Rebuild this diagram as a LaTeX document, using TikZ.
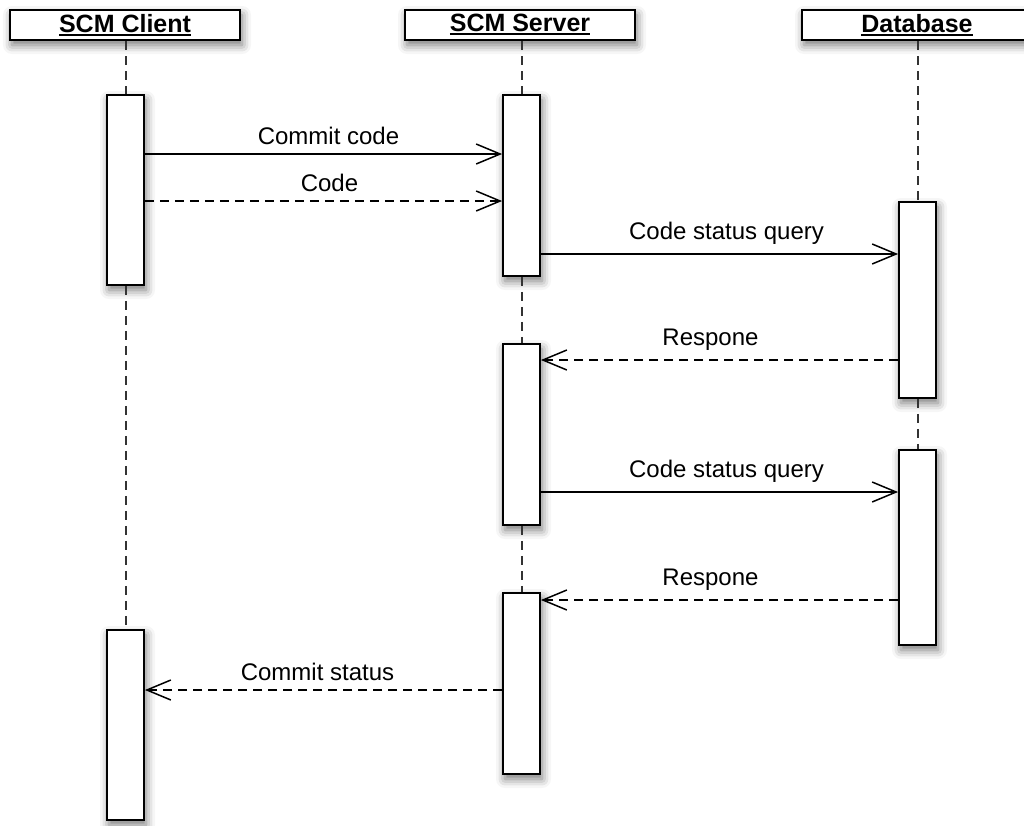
\documentclass[tikz,border=0pt]{standalone}
\usepackage{fontspec}
\setmainfont{Liberation Sans}
\usetikzlibrary{arrows.meta,shadows.blur}

% underlined participant title with a heavier rule
\newcommand\hdline[1]{\setbox0\hbox{#1}\rlap{\rule[-3.5pt]{\wd0}{2pt}}\box0}

\tikzset{
  shade/.style={blur shadow={shadow xshift=2pt,shadow yshift=-5pt,
      shadow blur radius=9pt,shadow opacity=55}},
  head/.style={draw,fill=white,line width=2pt,minimum width=230pt,
      minimum height=30pt,inner sep=0pt,shade,
      font=\fontsize{25}{30}\selectfont\bfseries},
  bar/.style={draw,fill=white,line width=1.8pt,minimum width=37pt,
      inner sep=0pt,shade},
  life/.style={line width=2pt,dash pattern=on 9pt off 6pt,black!80},
  msg/.style={line width=1.5pt,-{Straight Barb[length=24pt,width=20pt,line width=1.5pt]}},
  reply/.style={msg,dash pattern=on 9pt off 6pt},
  lbl/.style={above=9pt,inner sep=0pt,font=\fontsize{24}{28}\selectfont},
}

\begin{document}
\begin{tikzpicture}[x=1pt,y=-1pt]
\useasboundingbox (0,0) rectangle (1024,825);

% participants
\node[head] (hc) at (125,25) {\hdline{SCM Client}};
\node[head] (hs) at (520,25) {\hdline{SCM Server}};
\node[head] (hd) at (917,25) {\hdline{Database}};

% activation bars
\node[bar,minimum height=190pt] (c1) at (125.5,190) {};
\node[bar,minimum height=181pt] (s1) at (521.5,185.5) {};
\node[bar,minimum height=196pt] (d1) at (917.5,300) {};
\node[bar,minimum height=181pt] (s2) at (521.5,434.5) {};
\node[bar,minimum height=195pt] (d2) at (917.5,547.5) {};
\node[bar,minimum height=181pt] (s3) at (521.5,683.5) {};
\node[bar,minimum height=190pt] (c2) at (125.5,725) {};

% lifelines between the bars
\draw[life] (hc.south -| c1.north) -- (c1.north);
\draw[life] (c1.south) -- (c2.north);
\draw[life] (hs.south -| s1.north) -- (s1.north);
\draw[life] (s1.south) -- (s2.north);
\draw[life] (s2.south) -- (s3.north);
\draw[life] (hd.south -| d1.north) -- (d1.north);
\draw[life] (d1.south) -- (d2.north);

% messages
\draw[msg] (c1.east |- 0,154) -- node[lbl,xshift=5pt] {Commit code} (s1.west |- 0,154);
\draw[reply] (c1.east |- 0,201) -- node[lbl,xshift=6pt] {Code} (s1.west |- 0,201);
\draw[msg] (s1.east |- 0,254) -- node[lbl,xshift=7pt] {Code status query} (d1.west |- 0,254);
\draw[reply] (d1.west |- 0,360) -- node[lbl,xshift=-9pt] {Respone} (s2.east |- 0,360);
\draw[msg] (s2.east |- 0,492) -- node[lbl,xshift=7pt] {Code status query} (d2.west |- 0,492);
\draw[reply] (d2.west |- 0,600) -- node[lbl,xshift=-9pt] {Respone} (s3.east |- 0,600);
\draw[reply] (s3.west |- 0,690) -- node[lbl,xshift=-6pt] {Commit status} (c2.east |- 0,690);
\end{tikzpicture}
\end{document}
